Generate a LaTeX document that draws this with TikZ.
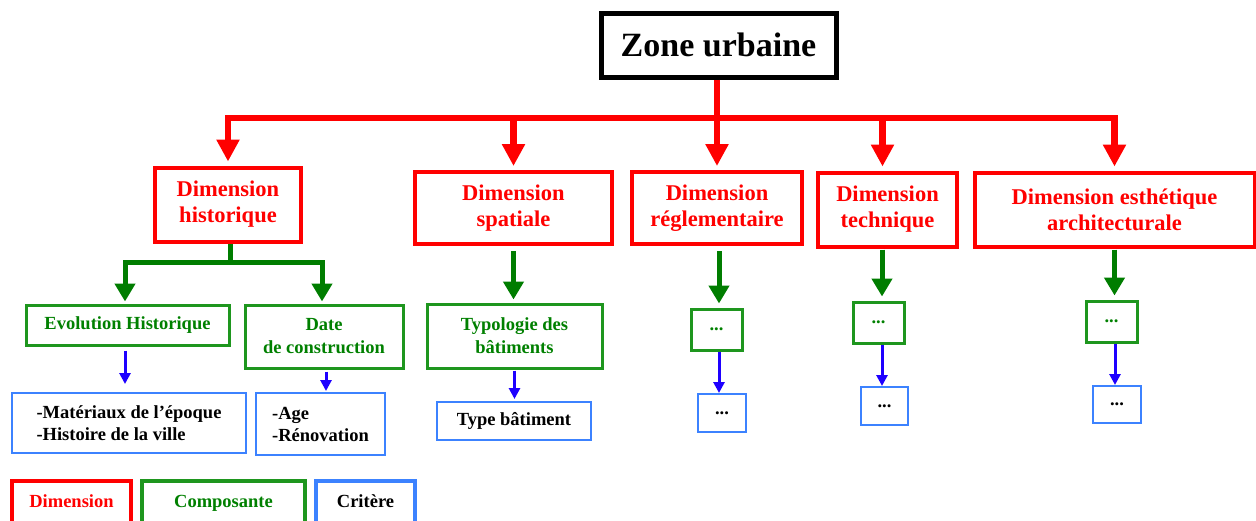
\documentclass[tikz,border=0pt]{standalone}
\usepackage{fontspec}
\setmainfont{Liberation Serif}
\usetikzlibrary{arrows.meta}
\definecolor{rd}{RGB}{255,0,0}
\definecolor{gtext}{RGB}{0,128,0}
\definecolor{gbox}{RGB}{30,150,30}
\definecolor{garr}{RGB}{0,125,0}
\definecolor{barr}{RGB}{30,0,255}
\definecolor{bbox}{RGB}{60,130,255}
\tikzset{
  zonebox/.style={draw=black,line width=5pt,inner sep=0pt,font=\fontsize{34}{40}\selectfont\bfseries},
  dimbox/.style={draw=rd,line width=4pt,inner sep=0pt,align=center,text=rd,font=\fontsize{22.5}{26}\selectfont\bfseries},
  compbox/.style={draw=gbox,line width=3pt,inner sep=0pt,align=center,text=gtext,font=\fontsize{18.5}{23}\selectfont\bfseries},
  critbox/.style={draw=bbox,line width=2pt,inner sep=0pt,align=left,text=black,font=\fontsize{18.5}{22}\selectfont\bfseries},
  legbox/.style={line width=4pt,minimum height=44pt,inner sep=0pt,text height=13pt,text depth=4pt,font=\fontsize{18.5}{20}\selectfont\bfseries},
  redline/.style={draw=rd,line width=6.5pt},
  redarrow/.style={draw=rd,line width=6.5pt,-{Triangle[width=22pt,length=22pt]},shorten >=4pt},
  greenline/.style={draw=garr,line width=5pt},
  greenarrow/.style={draw=garr,line width=5pt,-{Triangle[width=20pt,length=18pt]}},
  bluearrow/.style={draw=barr,line width=3pt,-{Triangle[width=11pt,length=11pt]}},
}
\begin{document}
\begin{tikzpicture}[x=1pt,y=-1pt]
\useasboundingbox (0,0) rectangle (1256,520);
% top
\node[zonebox,minimum width=235pt,minimum height=64pt] (zone) at (718.5,45) {Zone urbaine};
% dimensions
\node[dimbox,minimum width=146pt,minimum height=74pt] (dh) at (228,204.5) {Dimension\\historique};
\node[dimbox,minimum width=197pt,minimum height=72pt] (ds) at (513.5,208) {Dimension\\spatiale};
\node[dimbox,minimum width=170pt,minimum height=72pt] (dr) at (717,208) {Dimension\\réglementaire};
\node[dimbox,minimum width=139pt,minimum height=74pt] (dt) at (887.5,209.5) {Dimension\\technique};
\node[dimbox,minimum width=280pt,minimum height=74pt] (de) at (1114.5,209.5) {Dimension esthétique\\architecturale};
% components
\node[compbox,minimum width=203pt,minimum height=40pt] (ev) at (127.5,325) {Evolution Historique};
\node[compbox,minimum width=158pt,minimum height=63pt] (dc) at (324,336.5) {Date\\de construction};
\node[compbox,minimum width=175pt,minimum height=64pt] (ty) at (514.5,336) {Typologie des\\bâtiments};
\node[compbox,minimum width=51pt,minimum height=41pt] (gr) at (716.5,329.5) {...};
\node[compbox,minimum width=51pt,minimum height=41pt] (gt) at (878.5,322.5) {...};
\node[compbox,minimum width=51pt,minimum height=41pt] (ge) at (1111.5,321.5) {...};
% criteria
\node[critbox,minimum width=234pt,minimum height=60pt] (mat) at (129,423) {-Matériaux de l'époque\\-Histoire de la ville};
\node[critbox,minimum width=129pt,minimum height=62pt] (age) at (320.5,424) {-Age\\-Rénovation};
\node[critbox,minimum width=154pt,minimum height=38pt] (tb) at (514,421) {Type bâtiment};
\node[critbox,minimum width=48pt,minimum height=38pt] (br) at (722,413) {...};
\node[critbox,minimum width=47pt,minimum height=38pt] (bt) at (884.5,406) {...};
\node[critbox,minimum width=48pt,minimum height=37pt] (be) at (1117,404.5) {...};
% legend
\node[legbox,draw=rd,text=rd,minimum width=119pt] (ld) at (71.5,503) {Dimension};
\node[legbox,draw=gbox,text=gtext,minimum width=163pt] (lc) at (223.5,503) {Composante};
\node[legbox,draw=bbox,text=black,minimum width=99pt] (lk) at (365.5,503) {Critère};
% red connectors
\coordinate (rj) at (717,118);
\draw[redline] ([xshift=-1.5pt]zone.south) -- (rj);
\draw[redline] (rj -| dh.north) -- (rj -| de.north);
\draw[redarrow] (rj) -| (dh.north);
\draw[redarrow] (rj) -| (ds.north);
\draw[redarrow] (rj) -- (dr.north);
\draw[redarrow] (rj) -| ([xshift=-5pt]dt.north);
\draw[redarrow] (rj) -| (de.north);
% green connectors
\coordinate (gj) at (230,262);
\draw[greenline] ([xshift=2pt]dh.south) -- (gj);
\draw[greenarrow,shorten >=2pt] (gj) -| ([xshift=-2.5pt]ev.north);
\draw[greenarrow,shorten >=2pt] (gj) -| ([xshift=-2pt]dc.north);
\draw[greenarrow,shorten <=5pt,shorten >=3pt] (ds.south) -- (ds.south |- ty.north);
\draw[greenarrow,shorten <=5pt,shorten >=4pt] ([xshift=2pt]dr.south) -- ([xshift=2pt]dr.south |- gr.north);
\draw[greenarrow,shorten <=1pt,shorten >=4pt] ([xshift=-5.5pt]dt.south) -- ([xshift=-5.5pt]dt.south |- gt.north);
\draw[greenarrow,shorten <=1pt,shorten >=4pt] (de.south) -- (de.south |- ge.north);
% blue connectors
\draw[bluearrow,shorten <=4pt,shorten >=8pt] ([xshift=-2.5pt]ev.south) -- ([xshift=-2.5pt]ev.south |- mat.north);
\draw[bluearrow,shorten <=2pt,shorten >=1pt] ([xshift=2pt]dc.south) -- ([xshift=2pt]dc.south |- age.north);
\draw[bluearrow,shorten <=1pt,shorten >=2pt] (ty.south) -- (ty.south |- tb.north);
\draw[bluearrow] ([xshift=2.5pt]gr.south) -- ([xshift=2.5pt]gr.south |- br.north);
\draw[bluearrow] ([xshift=3.5pt]gt.south) -- ([xshift=3.5pt]gt.south |- bt.north);
\draw[bluearrow] ([xshift=3.5pt]ge.south) -- ([xshift=3.5pt]ge.south |- be.north);
\end{tikzpicture}
\end{document}
